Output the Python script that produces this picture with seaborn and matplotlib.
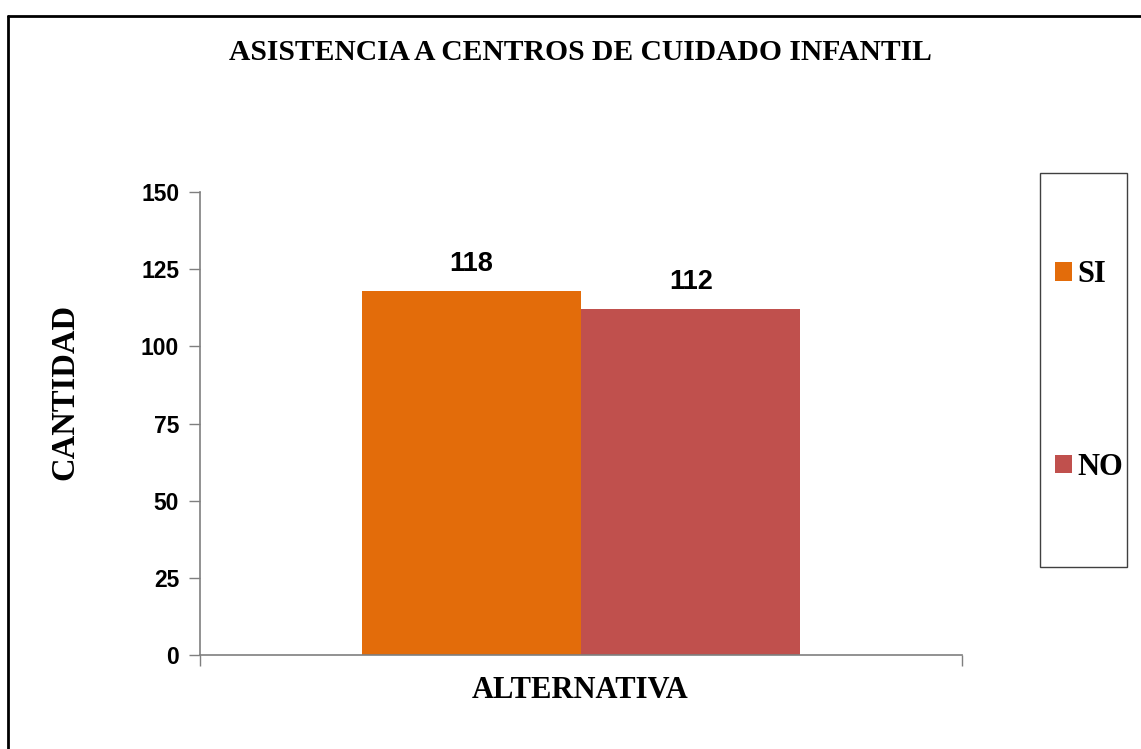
import matplotlib
matplotlib.use("Agg")
import matplotlib.pyplot as plt
from matplotlib.lines import Line2D
from matplotlib.patches import Rectangle, Patch
import seaborn as sns
import pandas as pd

# Data
categorias = ["SI", "NO"]
cantidades = [118, 112]
colores = ["#E36C0A", "#C0504D"]
yticks = [0, 25, 50, 75, 100, 125, 150]
titulo = "ASISTENCIA A CENTROS DE CUIDADO INFANTIL"

df = pd.DataFrame({"grupo": ["ALTERNATIVA"] * len(categorias),
                   "alternativa": categorias,
                   "cantidad": cantidades})

sns.set_theme(style="white")
plt.rcParams['font.family'] = ['Liberation Sans', 'DejaVu Sans']
plt.rcParams['text.color'] = 'black'

W, H = 1141, 749
fig = plt.figure(figsize=(W / 100, H / 100), dpi=100)
ax = fig.add_axes([200 / W, 1 - 655 / H, (962 - 200) / W, (655 - 192) / H])

sns.barplot(data=df, x="grupo", y="cantidad", hue="alternativa",
            hue_order=categorias, palette=colores, width=0.576,
            saturation=1, ax=ax, legend=False, linewidth=0)

ax.set_xlim(-0.5, 0.5)
ax.set_ylim(0, 150)
ax.set_yticks(yticks)
ax.set_yticklabels([str(v) for v in yticks], fontsize=16.5, fontweight='bold',
                   family=['Liberation Sans'], color='black')
ax.set_xticks([-0.5, 0.5])
ax.set_xticklabels(["", ""])
ax.tick_params(axis='y', direction='out', length=8, width=1, color='#7f7f7f', pad=7, left=True)
ax.tick_params(axis='x', direction='out', length=8, width=1, color='#7f7f7f', bottom=True)
for s in ['top', 'right']:
    ax.spines[s].set_visible(False)
for s in ['left', 'bottom']:
    ax.spines[s].set_color('#7f7f7f')
    ax.spines[s].set_linewidth(1.2)

for cont in ax.containers:
    ax.bar_label(cont, fontsize=19.5, fontweight='bold', padding=10,
                 family=['Liberation Sans'], color='black')

ax.set_xlabel("ALTERNATIVA", fontsize=22, fontweight='bold',
              family=['Liberation Serif'], color='black')
ax.xaxis.set_label_coords((580 - 200) / 762, (655 - 691) / 463)
ax.xaxis.label.set_va('center')
ax.set_ylabel("CANTIDAD", fontsize=23.5, fontweight='bold',
              family=['Liberation Serif'], color='black')
ax.yaxis.set_label_coords((65 - 200) / 762, (655 - 392) / 463)
ax.yaxis.label.set_va('center')

fig.text(580 / W, 1 - 53 / H, titulo, ha='center', va='center', fontsize=21.3,
         fontweight='bold', family=['Liberation Serif'], color='black')

# Legend box
fig.patches.append(Rectangle((1040 / W, 1 - 567 / H), (1127 - 1040) / W, (567 - 173) / H,
                             transform=fig.transFigure, fill=False, edgecolor='#404040',
                             linewidth=1))
handles = [Patch(facecolor=c, edgecolor='none', label=l) for c, l in zip(colores, categorias)]
fig.legend(handles=handles, loc='center left', bbox_to_anchor=(1055 / W, 1 - 371 / H),
           frameon=False, prop={'family': 'Liberation Serif', 'weight': 'bold', 'size': 22},
           handlelength=0.55, handleheight=0.55, handletextpad=0.18, labelspacing=5.35,
           borderpad=0, borderaxespad=0)

# Figure border (top and left)
fig.lines.append(Line2D([8 / W, 1], [1 - 16 / H, 1 - 16 / H], transform=fig.transFigure,
                        color='black', linewidth=2))
fig.lines.append(Line2D([8 / W, 8 / W], [0, 1 - 16 / H], transform=fig.transFigure,
                        color='black', linewidth=2))

fig.savefig("out.png", dpi=100, facecolor='white')
